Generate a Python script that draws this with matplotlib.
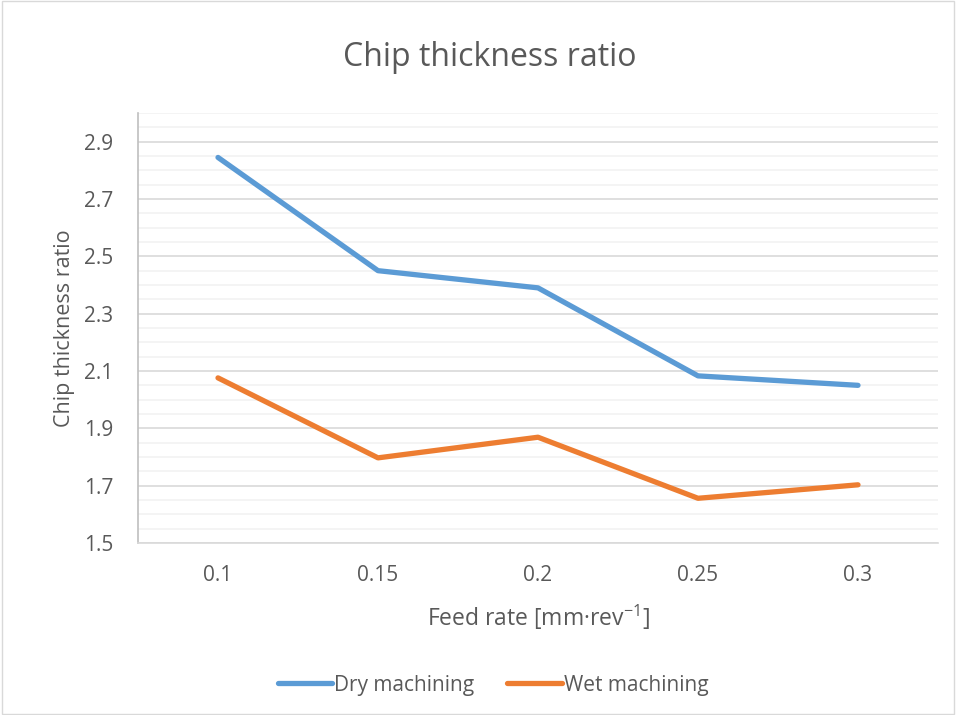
import matplotlib
matplotlib.use("Agg")
import matplotlib.pyplot as plt
from matplotlib.ticker import MultipleLocator, FixedLocator
from matplotlib.patches import Rectangle

categories = ["0.1", "0.15", "0.2", "0.25", "0.3"]
dry = [2.845, 2.450, 2.390, 2.083, 2.050]
wet = [2.076, 1.797, 1.869, 1.656, 1.703]
yticks = [1.5, 1.7, 1.9, 2.1, 2.3, 2.5, 2.7, 2.9]

plt.rcParams['font.family'] = ['Open Sans', 'DejaVu Sans']
txt = '#595959'

fig = plt.figure(figsize=(9.56, 7.15), dpi=100)
fig.patches.append(Rectangle((0.002, 0.002), 0.996, 0.996, transform=fig.transFigure,
                             fill=False, edgecolor='#D9D9D9', linewidth=1))
ax = fig.add_axes([138/956, 1 - 543/715, 800/956, 430/715])

x = list(range(len(categories)))
ax.plot(x, dry, color='#5B9BD5', lw=3.8, solid_capstyle='round', solid_joinstyle='round', label='Dry machining', zorder=3)
ax.plot(x, wet, color='#ED7D31', lw=3.8, solid_capstyle='round', solid_joinstyle='round', label='Wet machining', zorder=3)

ax.set_xlim(-0.5, len(categories) - 0.5)
ax.set_ylim(1.5, 3.0)
ax.set_xticks(x)
ax.set_xticklabels(categories)
ax.yaxis.set_major_locator(FixedLocator(yticks))
ax.yaxis.set_minor_locator(MultipleLocator(0.05))
ax.grid(axis='y', which='major', color='#D9D9D9', lw=1.2, zorder=0)
ax.grid(axis='y', which='minor', color='#F2F2F2', lw=1.2, zorder=0)
ax.tick_params(axis='both', which='both', length=0, labelsize=15, colors=txt)
ax.tick_params(axis='y', pad=18)
ax.tick_params(axis='x', pad=16)
for s in ['top', 'right']:
    ax.spines[s].set_visible(False)
ax.spines['left'].set_color('#BFBFBF')
ax.spines['bottom'].set_color('#D9D9D9')
ax.spines['left'].set_linewidth(1.2)
ax.spines['bottom'].set_linewidth(1.2)

ax.set_ylabel('Chip thickness ratio', fontsize=15.5, color=txt, labelpad=6)
ax.set_xlabel('Feed rate [mm·rev$^{\\mathregular{-1}}$]', fontsize=16.5, color=txt, labelpad=12)
fig.text(490/956, 1 - 58/715, 'Chip thickness ratio', ha='center', va='center', fontsize=23, color=txt)

leg = fig.legend(loc='center', bbox_to_anchor=(493/956, 1 - 685/715), ncol=2, frameon=False,
                 fontsize=15, handlelength=2.6, handletextpad=0.1, columnspacing=1.6)
for t in leg.get_texts():
    t.set_color(txt)

fig.savefig('out.png', dpi=100)
